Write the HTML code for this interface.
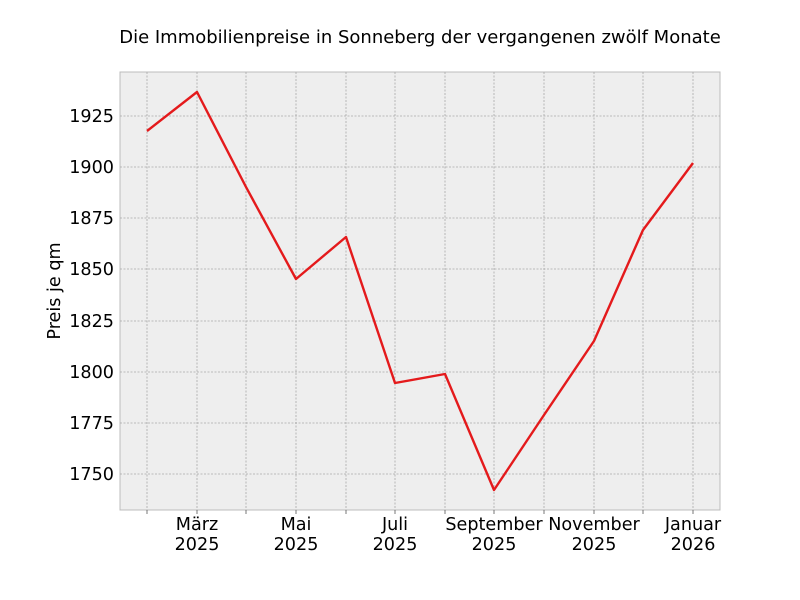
<!DOCTYPE html>
<html><head><meta charset="utf-8"><style>body{margin:0;background:#fff}svg{display:block}</style></head><body>
<svg width="800" height="600" xmlns="http://www.w3.org/2000/svg" font-family="'DejaVu Sans','Liberation Sans',sans-serif">
<rect x="0" y="0" width="800" height="600" fill="#fff"/>
<rect x="120" y="72" width="600" height="438" fill="#eeeeee" stroke="#bcbcbc" stroke-width="1"/>
<g stroke="#a8a8a8" stroke-width="0.8" stroke-dasharray="2,1.5">
<line x1="147" y1="72" x2="147" y2="510"/><line x1="197" y1="72" x2="197" y2="510"/>
<line x1="246" y1="72" x2="246" y2="510"/><line x1="296" y1="72" x2="296" y2="510"/>
<line x1="346" y1="72" x2="346" y2="510"/><line x1="395" y1="72" x2="395" y2="510"/>
<line x1="445" y1="72" x2="445" y2="510"/><line x1="494" y1="72" x2="494" y2="510"/>
<line x1="544" y1="72" x2="544" y2="510"/><line x1="594" y1="72" x2="594" y2="510"/>
<line x1="643" y1="72" x2="643" y2="510"/><line x1="693" y1="72" x2="693" y2="510"/>
<line x1="120" y1="116" x2="720" y2="116"/><line x1="120" y1="167" x2="720" y2="167"/>
<line x1="120" y1="218" x2="720" y2="218"/><line x1="120" y1="269" x2="720" y2="269"/>
<line x1="120" y1="321" x2="720" y2="321"/><line x1="120" y1="372" x2="720" y2="372"/>
<line x1="120" y1="423" x2="720" y2="423"/><line x1="120" y1="474" x2="720" y2="474"/>
</g>
<g stroke="#555" stroke-width="0.8">
<line x1="147" y1="510" x2="147" y2="514"/><line x1="197" y1="510" x2="197" y2="514"/>
<line x1="246" y1="510" x2="246" y2="514"/><line x1="296" y1="510" x2="296" y2="514"/>
<line x1="346" y1="510" x2="346" y2="514"/><line x1="395" y1="510" x2="395" y2="514"/>
<line x1="445" y1="510" x2="445" y2="514"/><line x1="494" y1="510" x2="494" y2="514"/>
<line x1="544" y1="510" x2="544" y2="514"/><line x1="594" y1="510" x2="594" y2="514"/>
<line x1="643" y1="510" x2="643" y2="514"/><line x1="693" y1="510" x2="693" y2="514"/>
</g>
<polyline fill="none" stroke="#e41a1c" stroke-width="2.4" stroke-linejoin="round" points="147,131 197,92 246,187 296,279 346,237 395,383 445,374 494,490 544,415 594,341 643,230 693,163"/>
<g font-size="17.6" fill="#000" text-anchor="end">
<text x="114" y="122">1925</text><text x="114" y="173">1900</text><text x="114" y="224">1875</text>
<text x="114" y="275">1850</text><text x="114" y="327">1825</text><text x="114" y="378">1800</text>
<text x="114" y="429">1775</text><text x="114" y="480">1750</text>
</g>
<g font-size="17.6" fill="#000" text-anchor="middle">
<text x="197" y="530">März</text><text x="197" y="550">2025</text>
<text x="296" y="530">Mai</text><text x="296" y="550">2025</text>
<text x="395" y="530">Juli</text><text x="395" y="550">2025</text>
<text x="494" y="530">September</text><text x="494" y="550">2025</text>
<text x="594" y="530">November</text><text x="594" y="550">2025</text>
<text x="693" y="530">Januar</text><text x="693" y="550">2026</text>
<text x="420" y="43" font-size="18">Die Immobilienpreise in Sonneberg der vergangenen zwölf Monate</text>
<text transform="translate(60,291) rotate(-90)">Preis je qm</text>
</g>
</svg>
</body></html>
